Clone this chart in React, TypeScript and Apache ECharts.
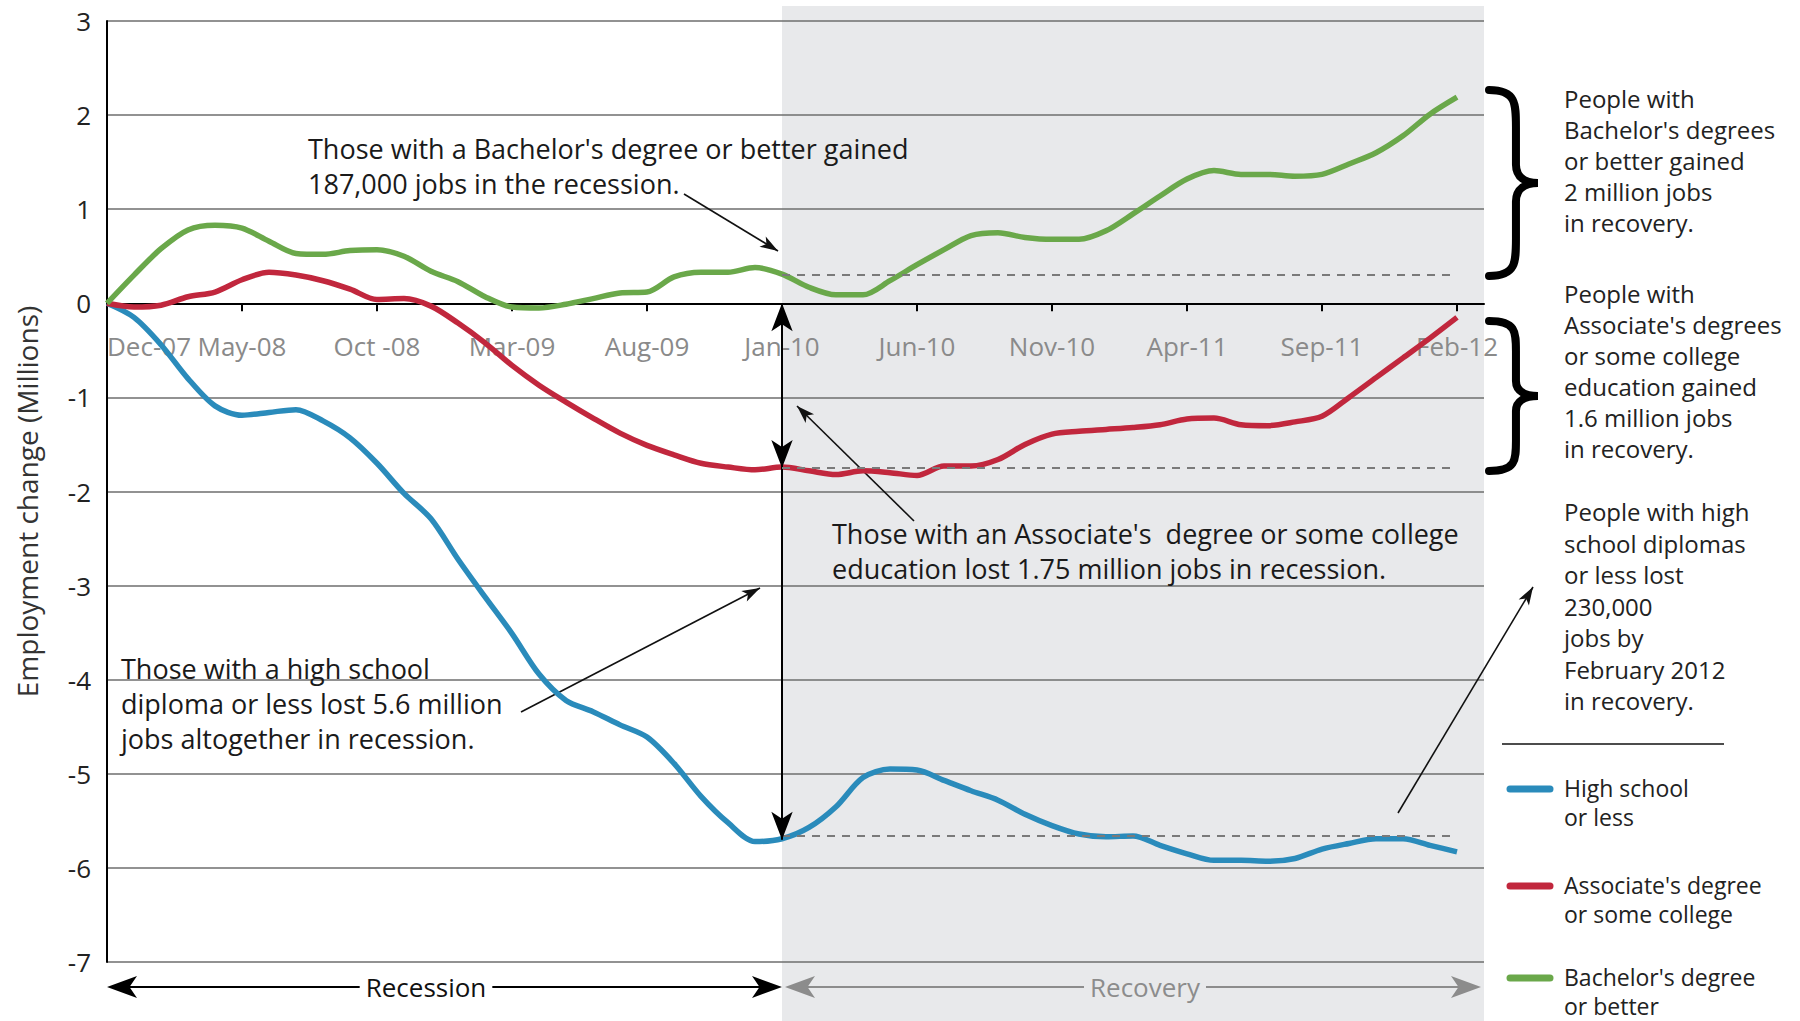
import React, { useEffect, useRef } from 'react';
import * as echarts from 'echarts';

// ---------- data ----------
const months = [
  'Dec-07', 'Jan-08', 'Feb-08', 'Mar-08', 'Apr-08', 'May-08', 'Jun-08', 'Jul-08', 'Aug-08', 'Sep-08',
  'Oct -08', 'Nov-08', 'Dec-08', 'Jan-09', 'Feb-09', 'Mar-09', 'Apr-09', 'May-09', 'Jun-09', 'Jul-09',
  'Aug-09', 'Sep-09', 'Oct-09', 'Nov-09', 'Dec-09', 'Jan-10', 'Feb-10', 'Mar-10', 'Apr-10', 'May-10',
  'Jun-10', 'Jul-10', 'Aug-10', 'Sep-10', 'Oct-10', 'Nov-10', 'Dec-10', 'Jan-11', 'Feb-11', 'Mar-11',
  'Apr-11', 'May-11', 'Jun-11', 'Jul-11', 'Aug-11', 'Sep-11', 'Oct-11', 'Nov-11', 'Dec-11', 'Jan-12',
  'Feb-12', 'Mar-12',
];

const highSchool = [
  0, -0.15, -0.44, -0.8, -1.09, -1.19, -1.16, -1.13, -1.25, -1.43,
  -1.7, -2.02, -2.29, -2.72, -3.12, -3.51, -3.94, -4.22, -4.34, -4.48,
  -4.61, -4.89, -5.24, -5.52, -5.72, -5.69, -5.57, -5.35, -5.04, -4.95,
  -4.96, -5.07, -5.18, -5.28, -5.43, -5.55, -5.64, -5.67, -5.66, -5.76,
  -5.85, -5.92, -5.92, -5.93, -5.9, -5.8, -5.74, -5.69, -5.69, -5.76,
  -5.83,
];

const associate = [
  0, -0.04, -0.02, 0.07, 0.12, 0.25, 0.33, 0.3, 0.24, 0.15,
  0.04, 0.05, -0.03, -0.21, -0.42, -0.66, -0.87, -1.05, -1.22, -1.38,
  -1.51, -1.61, -1.7, -1.74, -1.77, -1.74, -1.78, -1.82, -1.78, -1.8,
  -1.83, -1.73, -1.73, -1.66, -1.5, -1.39, -1.36, -1.34, -1.32, -1.29,
  -1.23, -1.22, -1.29, -1.3, -1.26, -1.2, -1.0, -0.79, -0.58, -0.37,
  -0.15,
];

const bachelor = [
  0, 0.3, 0.58, 0.78, 0.83, 0.8, 0.66, 0.53, 0.52, 0.56,
  0.57, 0.5, 0.34, 0.23, 0.07, -0.04, -0.05, -0.01, 0.05, 0.11,
  0.12, 0.28, 0.33, 0.33, 0.38, 0.31, 0.17, 0.09, 0.09, 0.24,
  0.41, 0.57, 0.72, 0.75, 0.7, 0.68, 0.68, 0.77, 0.95, 1.14,
  1.32, 1.41, 1.37, 1.37, 1.35, 1.37, 1.48, 1.6, 1.78, 2.01,
  2.19,
];

// recession end levels (dashed reference lines)
const recessionEndLevels = { bachelor: 0.3, associate: -1.75, highSchool: -5.66 };
const recessionStart = 'Jan-10';
const lastMonth = 'Feb-12';

const yMin = -7;
const yMax = 3;

const seriesNames = ['High school or less', "Associate's degree or some college", "Bachelor's degree or better"];
const legendLabels = ['High school\nor less', "Associate's degree\nor some college", "Bachelor's degree\nor better"];

const BLUE = '#2a8bbb';
const RED = '#c1273d';
const GREEN = '#6aa84a';
const SHADE = '#e8e9eb';
const FONT = '"Open Sans", "Noto Sans", sans-serif';

const W = 1800;
const H = 1021;
const GRID = { left: 107, right: 316, top: 21, bottom: 59 };

function bracePath(h: number, w: number) {
  const m = w * 0.55;
  return `M0,0 C${m},0 ${m},${h * 0.07} ${m},${h * 0.2} L${m},${h * 0.4} C${m},${h * 0.47} ${w * 0.75},${h * 0.5} ${w},${h * 0.5} C${w * 0.75},${h * 0.5} ${m},${h * 0.53} ${m},${h * 0.6} L${m},${h * 0.8} C${m},${h * 0.93} ${m},${h} 0,${h}`;
}
echarts.graphic.registerShape('brace1', echarts.graphic.extendPath(bracePath(186, 49), {}));
echarts.graphic.registerShape('brace2', echarts.graphic.extendPath(bracePath(150, 49), {}));

function arrowHead(tx: number, ty: number, fx: number, fy: number, len: number, hw: number, color: string) {
  const dx = tx - fx;
  const dy = ty - fy;
  const d = Math.sqrt(dx * dx + dy * dy) || 1;
  const ux = dx / d;
  const uy = dy / d;
  const bx = tx - ux * len;
  const by = ty - uy * len;
  const nx = tx - ux * len * 0.75;
  const ny = ty - uy * len * 0.75;
  return {
    type: 'polygon',
    shape: {
      points: [
        [tx, ty],
        [bx - uy * hw, by + ux * hw],
        [nx, ny],
        [bx + uy * hw, by - ux * hw],
      ],
    },
    style: { fill: color },
    silent: true,
  };
}

function annotArrow(fx: number, fy: number, tx: number, ty: number) {
  return [
    { type: 'line', shape: { x1: fx, y1: fy, x2: tx, y2: ty }, style: { stroke: '#111', lineWidth: 1.6 }, silent: true },
    arrowHead(tx, ty, fx, fy, 18, 6, '#111'),
  ];
}

function textEl(x: number, y: number, text: string, size: number, lh: number, color = '#1a1a1a', extra: any = {}) {
  return {
    type: 'text',
    x,
    y,
    silent: true,
    style: {
      text,
      fontSize: size,
      fontFamily: FONT,
      fill: color,
      lineHeight: lh,
      verticalAlign: 'top',
      align: 'left',
      ...extra,
    },
  };
}

export default function App() {
  const ref = useRef<HTMLDivElement>(null);

  useEffect(() => {
    if (!ref.current) return;
    const chart = echarts.init(ref.current, undefined, { renderer: 'svg' });

    const plotH = H - GRID.top - GRID.bottom;
    const zeroFromBottom = (0 - yMin) / (yMax - yMin) * plotH;

    const dashed = (level: number) => [
      { coord: [recessionStart, level], symbol: 'none' },
      { coord: [lastMonth, level], symbol: 'none' },
    ];

    const option: any = {
      animation: false,
      textStyle: { fontFamily: FONT },
      grid: { ...GRID, containLabel: false },
      xAxis: {
        type: 'category',
        data: months,
        boundaryGap: false,
        position: 'bottom',
        offset: -zeroFromBottom,
        axisLine: { onZero: false, lineStyle: { color: '#000', width: 2 } },
        axisTick: { show: true, interval: 4, length: 8, lineStyle: { color: '#000', width: 2 } },
        axisLabel: { interval: 4, color: '#8a8a8a', fontSize: 26, margin: 30, alignMinLabel: 'left' },
        splitLine: { show: false },
      },
      yAxis: {
        type: 'value',
        min: yMin,
        max: yMax,
        interval: 1,
        name: 'Employment change (Millions)',
        nameLocation: 'middle',
        nameGap: 66,
        nameTextStyle: { fontSize: 28, color: '#333', fontFamily: FONT, padding: [0, 20, 0, 0] },
        axisLine: { show: true, lineStyle: { color: '#000', width: 2 } },
        axisTick: { show: false },
        axisLabel: { color: '#222', fontSize: 26, margin: 16 },
        splitLine: { lineStyle: { color: '#6e6e6e', width: 1.5 } },
      },
      series: [
        {
          name: seriesNames[0],
          type: 'line',
          data: highSchool,
          symbol: 'none',
          smooth: 0.3,
          z: 4,
          lineStyle: { color: BLUE, width: 5.5 },
          itemStyle: { color: BLUE },
          markLine: {
            silent: true,
            symbol: 'none',
            label: { show: false },
            lineStyle: { color: '#7a7a7a', type: [8, 7], width: 1.8 },
            data: [
              dashed(recessionEndLevels.highSchool),
              [
                { coord: [recessionStart, 0], symbol: 'arrow', symbolSize: [16, 28], lineStyle: { type: 'solid', color: '#000', width: 2 } },
                { coord: [recessionStart, recessionEndLevels.associate], symbol: 'arrow', symbolSize: [16, 28] },
              ],
              [
                { coord: [recessionStart, recessionEndLevels.associate], symbol: 'none', lineStyle: { type: 'solid', color: '#000', width: 2 } },
                { coord: [recessionStart, -5.7], symbol: 'arrow', symbolSize: [16, 28] },
              ],
            ],
          },
        },
        {
          name: seriesNames[1],
          type: 'line',
          data: associate,
          symbol: 'none',
          smooth: 0.3,
          z: 4,
          lineStyle: { color: RED, width: 5.5 },
          itemStyle: { color: RED },
          markLine: {
            silent: true,
            symbol: 'none',
            label: { show: false },
            lineStyle: { color: '#7a7a7a', type: [8, 7], width: 1.8 },
            data: [dashed(recessionEndLevels.associate)],
          },
        },
        {
          name: seriesNames[2],
          type: 'line',
          data: bachelor,
          symbol: 'none',
          smooth: 0.3,
          z: 4,
          lineStyle: { color: GREEN, width: 5.5 },
          itemStyle: { color: GREEN },
          markLine: {
            silent: true,
            symbol: 'none',
            label: { show: false },
            lineStyle: { color: '#7a7a7a', type: [8, 7], width: 1.8 },
            data: [dashed(recessionEndLevels.bachelor)],
          },
        },
      ],
    };

    chart.setOption(option);

    const px = (i: number, v: number) => chart.convertToPixel({ gridIndex: 0 } as any, [i, v]) as number[];
    const x0 = px(0, 0)[0];
    const xJan10 = px(months.indexOf(recessionStart), 0)[0];
    const xRight = px(months.length - 1, 0)[0];
    const yBottom = 987;

    const graphic: any[] = [];
    // recovery shading
    graphic.push({
      type: 'rect',
      z: -10,
      silent: true,
      shape: { x: xJan10, y: 6, width: xRight - xJan10, height: H - 6 },
      style: { fill: SHADE },
    });

    // Recession arrow
    graphic.push({ type: 'line', silent: true, shape: { x1: x0 + 10, y1: yBottom, x2: xJan10 - 10, y2: yBottom }, style: { stroke: '#000', lineWidth: 2 } });
    graphic.push(arrowHead(x0, yBottom, x0 + 40, yBottom, 30, 11, '#000'));
    graphic.push(arrowHead(xJan10, yBottom, xJan10 - 40, yBottom, 30, 11, '#000'));
    graphic.push(textEl(426, yBottom, 'Recession', 26, 30, '#111', { align: 'center', verticalAlign: 'middle', backgroundColor: '#fff', padding: [0, 6] }));
    // Recovery arrow
    graphic.push({ type: 'line', silent: true, shape: { x1: xJan10 + 12, y1: yBottom, x2: xRight - 10, y2: yBottom }, style: { stroke: '#8c8c8c', lineWidth: 2 } });
    graphic.push(arrowHead(xJan10 + 3, yBottom, xJan10 + 43, yBottom, 30, 11, '#8c8c8c'));
    graphic.push(arrowHead(xRight - 3, yBottom, xRight - 43, yBottom, 30, 11, '#8c8c8c'));
    graphic.push(textEl(1145, yBottom, 'Recovery', 26, 30, '#8c8c8c', { align: 'center', verticalAlign: 'middle', backgroundColor: SHADE, padding: [0, 6] }));

    // annotations in plot
    graphic.push(textEl(308, 131, "Those with a Bachelor's degree or better gained\n187,000 jobs in the recession.", 27, 35));
    graphic.push(...annotArrow(684, 194, 778, 251));
    graphic.push(textEl(832, 516, "Those with an Associate's  degree or some college\neducation lost 1.75 million jobs in recession.", 27, 35));
    graphic.push(...annotArrow(914, 521, 797, 406));
    graphic.push(textEl(121, 651, 'Those with a high school\ndiploma or less lost 5.6 million\njobs altogether in recession.', 27, 35));
    graphic.push(...annotArrow(521, 712, 760, 588));
    graphic.push(...annotArrow(1398, 813, 1533, 587));

    // braces
    graphic.push({ type: 'brace1', x: 1489, y: 90, silent: true, style: { fill: 'none', stroke: '#000', lineWidth: 8, lineCap: 'round' } });
    graphic.push({ type: 'brace2', x: 1489, y: 321, silent: true, style: { fill: 'none', stroke: '#000', lineWidth: 8, lineCap: 'round' } });

    // right-side notes
    graphic.push(textEl(1564, 83, "People with\nBachelor's degrees\nor better gained\n2 million jobs\nin recovery.", 24, 31, '#222'));
    graphic.push(textEl(1564, 278, "People with\nAssociate's degrees\nor some college\neducation gained\n1.6 million jobs\nin recovery.", 24, 31, '#222'));
    graphic.push(textEl(1564, 496, 'People with high\nschool diplomas\nor less lost\n230,000\njobs by\nFebruary 2012\nin recovery.', 24, 31.5, '#222'));

    // divider
    graphic.push({ type: 'line', silent: true, shape: { x1: 1502, y1: 744, x2: 1724, y2: 744 }, style: { stroke: '#111', lineWidth: 1.6 } });

    // legend
    const legendColors = [BLUE, RED, GREEN];
    const legendY = [789, 886, 978];
    legendColors.forEach((c, k) => {
      graphic.push({ type: 'line', silent: true, shape: { x1: 1510, y1: legendY[k], x2: 1550, y2: legendY[k] }, style: { stroke: c, lineWidth: 7, lineCap: 'round' } });
      graphic.push(textEl(1564, legendY[k] - 16, legendLabels[k], 23, 29.5, '#222'));
    });

    chart.setOption({ graphic });

    return () => {
      chart.dispose();
    };
  }, []);

  return (
    <div
      ref={ref}
      style={{ position: 'fixed', left: 0, top: 0, width: W, height: H, background: '#fff' }}
    />
  );
}
